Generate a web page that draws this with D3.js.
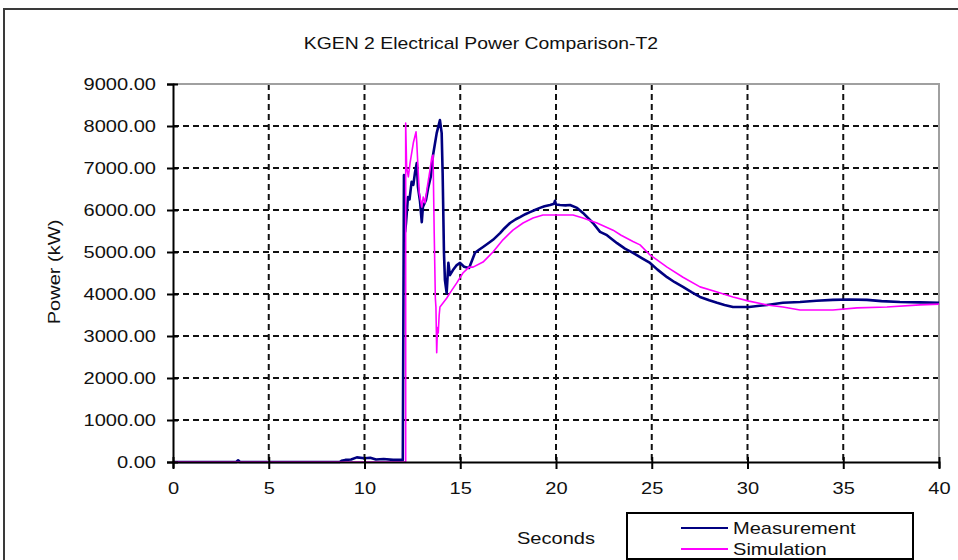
<!DOCTYPE html>
<html><head><meta charset="utf-8">
<script src="https://cdn.jsdelivr.net/npm/d3@7"></script>
<style>
body{margin:0;background:#fff;}
svg{display:block;font-family:"Liberation Sans",Arial,sans-serif;}
</style></head>
<body><svg id="c" width="958" height="560"></svg>
<script>
const title = "KGEN 2 Electrical Power Comparison-T2";
const xLabel = "Seconds";
const yLabel = "Power (kW)";
const seriesNames = ["Measurement", "Simulation"];
const xTicks = [0,5,10,15,20,25,30,35,40];
const yTicks = [0,1000,2000,3000,4000,5000,6000,7000,8000,9000];

const measT = [0,3.3,3.4,3.5,8.7,8.8,9.0,9.3,9.6,10.0,10.3,10.6,11.0,11.5,12.0,12.06,12.12,12.17,12.27,12.35,12.46,12.55,12.64,12.73,12.79,12.9,12.99,13.05,13.21,13.32,13.46,13.58,13.77,13.94,14.03,14.08,14.15,14.2,14.29,14.38,14.46,14.62,14.8,14.99,15.2,15.46,15.6,15.77,16.0,16.19,16.5,16.71,17.08,17.3,17.6,17.9,18.12,18.4,18.64,18.9,19.16,19.4,19.69,19.9,19.95,20.0,20.21,20.5,20.73,21.1,21.41,21.93,22.3,22.66,23.19,23.6,24.02,24.5,24.91,25.3,25.8,26.2,26.63,27.1,27.52,28.0,28.41,28.8,29.24,30.08,31.02,31.85,32.74,33.6,34.46,35.3,36.24,37.0,37.96,39.0,40.0];
const measP = [0,0,40,0,0,30,50,60,110,90,100,60,70,50,50,6830,5480,5700,6310,6250,6670,6600,6900,7120,6550,6200,5710,6070,6240,6520,6790,7310,7830,8140,7830,6880,4980,4330,4020,4740,4450,4570,4680,4740,4650,4620,4780,4980,5060,5120,5220,5290,5450,5560,5690,5780,5830,5900,5950,6000,6050,6090,6120,6150,6220,6130,6120,6110,6120,6050,5930,5690,5480,5400,5210,5080,4980,4850,4740,4580,4400,4280,4170,4040,3930,3850,3790,3740,3690,3690,3740,3790,3810,3840,3860,3870,3860,3830,3810,3800,3790];

const simT = [0,12.15,12.15,12.2,12.29,12.38,12.55,12.69,12.73,12.86,12.99,13.07,13.16,13.28,13.42,13.51,13.58,13.64,13.7,13.73,13.77,13.81,13.85,13.9,13.94,14.11,14.29,14.5,14.81,15.14,15.46,15.67,16.19,16.71,17.23,17.75,18.28,18.8,19.32,20.05,20.89,21.41,22.14,22.98,23.4,24.02,24.39,24.91,25.8,26.63,27.52,28.41,29.24,30.08,31.02,31.85,32.74,34.46,35.72,37.28,39.01,40];
const simP = [0,0,8070,7020,6790,7120,7600,7860,7600,6400,6070,6310,6170,6550,6950,7240,7310,5450,3900,3690,2600,3200,3070,3500,3690,3790,3900,4050,4260,4500,4640,4640,4760,5000,5290,5520,5690,5810,5880,5880,5880,5810,5690,5520,5400,5250,5170,4930,4640,4400,4170,4050,3930,3830,3740,3690,3620,3620,3670,3690,3740,3760];

const colors = ["#000080", "#ff00ff"];

const svg = d3.select("#c");
const L = 173, R = 939, T = 84, B = 462;
const x = d3.scaleLinear().domain([0,40]).range([L,R]);
const y = d3.scaleLinear().domain([0,9000]).range([B,T]);

function stretch(sel, k){
  sel.each(function(){
    const w = this.getComputedTextLength();
    d3.select(this).attr("textLength", w*k).attr("lengthAdjust","spacingAndGlyphs");
  });
}

// outer chart border
svg.append("rect").attr("x",4).attr("y",9).attr("width",1200).attr("height",1200)
  .attr("fill","none").attr("stroke","#3a3a3a").attr("stroke-width",2);

// title
svg.append("text").attr("x",481).attr("y",49).attr("text-anchor","middle")
  .attr("font-size",17).attr("fill","#111").text(title).call(stretch,1.14);

// grid
const g = svg.append("g");
g.selectAll(".gx").data(xTicks.filter(d=>d>0&&d<40)).enter().append("line")
  .attr("x1",d=>x(d)).attr("x2",d=>x(d)).attr("y1",T).attr("y2",B)
  .attr("stroke","#111").attr("stroke-width",2).attr("stroke-dasharray","6,4");
g.selectAll(".gy").data(yTicks.filter(d=>d>0&&d<9000)).enter().append("line")
  .attr("x1",L).attr("x2",R).attr("y1",d=>y(d)).attr("y2",d=>y(d))
  .attr("stroke","#111").attr("stroke-width",2).attr("stroke-dasharray","6,4");

// plot border top/right
svg.append("path").attr("d",`M${L},${T}H${R}V${B}`).attr("fill","none")
  .attr("stroke","#a0a0a0").attr("stroke-width",2);

// lines
const line = d3.line().x(d=>x(d[0])).y(d=>y(d[1]));
const simData = simT.map((t,i)=>[t,simP[i]]);
const measData = measT.map((t,i)=>[t,measP[i]]);
svg.append("path").datum(measData).attr("d",line).attr("fill","none")
  .attr("stroke",colors[0]).attr("stroke-width",2.6).attr("stroke-linejoin","round");
svg.append("path").datum(simData).attr("d",line).attr("fill","none")
  .attr("stroke",colors[1]).attr("stroke-width",1.6).attr("stroke-linejoin","round");

// axes
const yAxis = svg.append("g").attr("transform",`translate(${L},0)`)
  .call(d3.axisLeft(y).tickValues(yTicks).tickFormat(d3.format(".2f")).tickSize(6).tickPadding(10));
yAxis.select(".domain").attr("stroke","#000").attr("stroke-width",2);
yAxis.selectAll(".tick line").attr("stroke","#000").attr("stroke-width",2).attr("x2",5).attr("x1",-6);
yAxis.selectAll(".tick text").attr("font-size",17).attr("font-family","Liberation Sans, Arial, sans-serif")
  .attr("fill","#111").attr("x",-17).call(stretch,1.18);

const xAxis = svg.append("g").attr("transform",`translate(0,${B})`)
  .call(d3.axisBottom(x).tickValues(xTicks).tickFormat(d3.format("d")).tickSize(6).tickPadding(10));
xAxis.select(".domain").attr("stroke","#000").attr("stroke-width",2);
xAxis.selectAll(".tick line").attr("stroke","#000").attr("stroke-width",2).attr("y1",-5).attr("y2",7);
xAxis.selectAll(".tick text").attr("font-size",17).attr("font-family","Liberation Sans, Arial, sans-serif")
  .attr("fill","#111").attr("y",20).call(stretch,1.18);

// axis titles
svg.append("text").attr("transform","translate(60,272) rotate(-90)").attr("text-anchor","middle")
  .attr("font-size",17).attr("fill","#111").text(yLabel).call(stretch,1.18);
svg.append("text").attr("x",556).attr("y",544).attr("text-anchor","middle")
  .attr("font-size",17).attr("fill","#111").text(xLabel).call(stretch,1.18);

// legend
const lg = svg.append("g");
lg.append("rect").attr("x",627).attr("y",513).attr("width",286).attr("height",46)
  .attr("fill","#fff").attr("stroke","#000").attr("stroke-width",2);
seriesNames.forEach((n,i)=>{
  const yy = 528 + i*21;
  lg.append("line").attr("x1",681).attr("x2",728).attr("y1",yy).attr("y2",yy)
    .attr("stroke",colors[i]).attr("stroke-width",2);
  lg.append("text").attr("x",733).attr("y",yy+6).attr("font-size",17).attr("fill","#111")
    .text(n).call(stretch,1.18);
});
</script></body></html>
